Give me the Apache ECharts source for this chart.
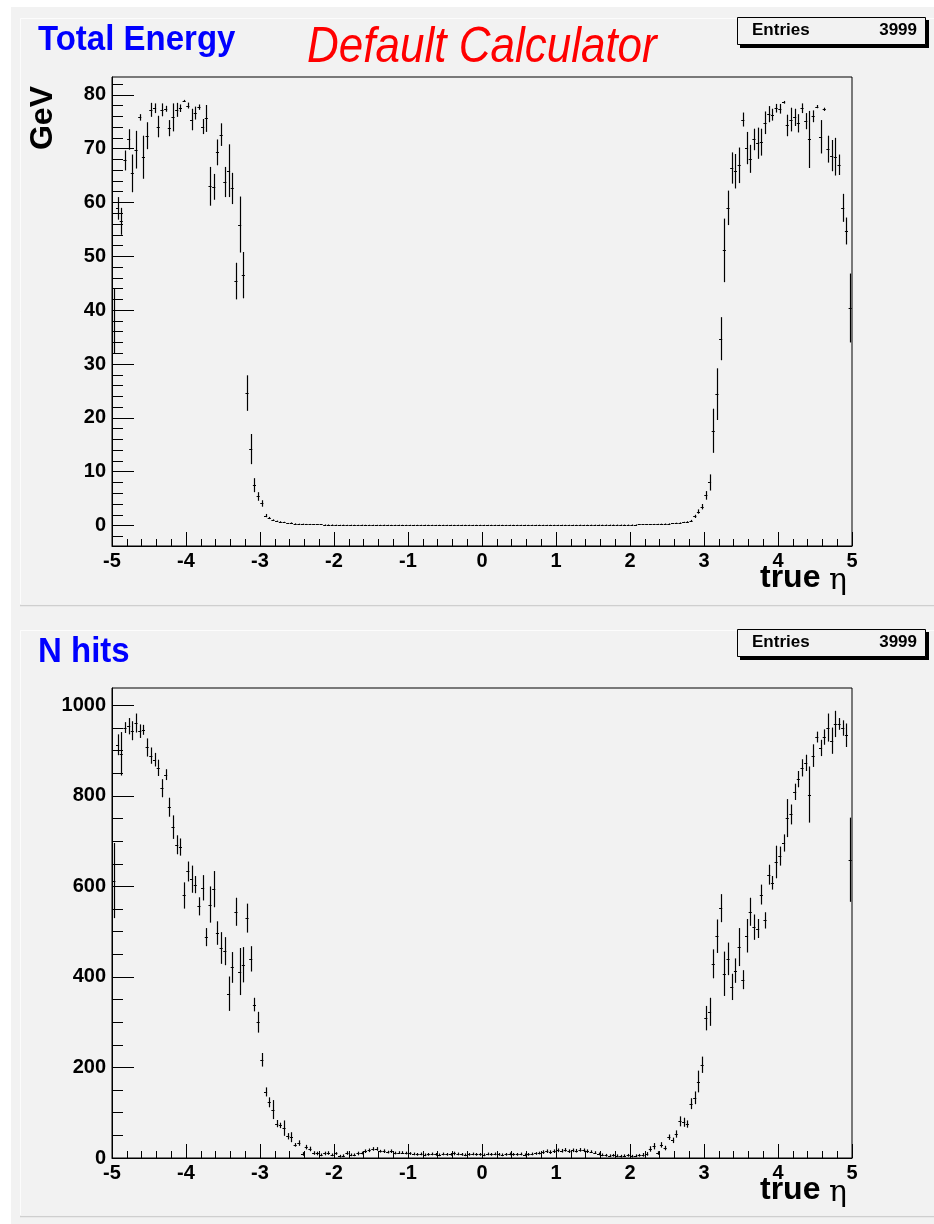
<!DOCTYPE html>
<html><head><meta charset="utf-8">
<script src="https://cdn.jsdelivr.net/npm/echarts@6/dist/echarts.min.js"></script>
<style>html,body{margin:0;padding:0;background:#fff}#c{width:934px;height:1224px}</style>
</head><body><div id="c"></div>
<script>
// Histogram definition
const N_BINS = 200, ETA_MIN = -5, ETA_MAX = 5;
const ENTRIES = 3999;

// Total energy per eta bin (GeV)
const energy = [
 38, 58.9, 56.5, 67.8, 71.7, 65.4, 69.8, 75.8, 68.4, 72.4,
 77.2, 77.5, 74.1, 77.2, 77.4, 73.8, 75.8, 77.2, 77.5, 78.9,
 78.0, 75.4, 76.6, 77.7, 74.1, 75.6, 63.0, 62.9, 69.3, 72.6,
 63.8, 65.9, 62.6, 45.4, 55.9, 46.5, 24.6, 14.2, 7.5, 5.4,
 4.1, 1.85, 1.4, 1.0, 0.8, 0.7, 0.6, 0.4, 0.5, 0.35,
 0.3, 0.3, 0.25, 0.25, 0.2, 0.2, 0.2, 0.15, 0.15, 0.15,
 0.12, 0.1, 0.12, 0.1, 0.11, 0.1, 0.09, 0.12, 0.1, 0.1,
 0.11, 0.1, 0.1, 0.12, 0.1, 0.09, 0.1, 0.11, 0.1, 0.1,
 0.1, 0.09, 0.1, 0.1, 0.11, 0.1, 0.1, 0.09, 0.1, 0.1,
 0.1, 0.1, 0.09, 0.1, 0.1, 0.1, 0.1, 0.09, 0.1, 0.1,
 0.1, 0.09, 0.1, 0.1, 0.1, 0.1, 0.09, 0.1, 0.1, 0.1,
 0.1, 0.1, 0.09, 0.1, 0.1, 0.11, 0.1, 0.1, 0.1, 0.1,
 0.1, 0.11, 0.1, 0.1, 0.11, 0.1, 0.12, 0.1, 0.11, 0.12,
 0.12, 0.13, 0.12, 0.14, 0.13, 0.14, 0.15, 0.14, 0.15, 0.16,
 0.17, 0.18, 0.2, 0.2, 0.22, 0.24, 0.25, 0.27, 0.3, 0.33,
 0.36, 0.4, 0.45, 0.5, 0.6, 0.7, 0.9, 1.7, 2.6, 3.5,
 5.6, 8.0, 17.6, 24.4, 34.7, 51.1, 59.0, 66.4, 65.8, 66.9,
 75.4, 70.1, 68.1, 71.7, 71.0, 71.2, 74.8, 76.4, 76.3, 77.5,
 77.4, 78.6, 74.3, 75.4, 75.8, 74.7, 77.5, 75.1, 71.7, 76.0,
 77.8, 72.2, 77.3, 69.9, 68.7, 68.5, 67.0, 59.0, 54.7, 40.4
];
const energyErr = [
 6.0, 2.1, 2.5, 1.85, 1.9, 3.5, 3.5, 0.6, 4.0, 2.5,
 1.3, 0.9, 2.0, 1.2, 0.55, 1.5, 2.6, 1.3, 0.7, 0.15,
 0.55, 2.0, 1.2, 0.5, 1.4, 2.5, 3.6, 2.4, 2.4, 2.1,
 2.8, 4.9, 2.9, 3.4, 5.2, 4.3, 3.3, 2.8, 1.3, 0.8,
 0.6, 0.3, 0.2, 0.15, 0.12, 0.1, 0.1, 0.08, 0.08, 0.06,
 0.05, 0.05, 0.05, 0.05, 0.05, 0.05, 0.05, 0.05, 0.05, 0.05,
 0.04, 0.04, 0.04, 0.04, 0.04, 0.04, 0.04, 0.04, 0.04, 0.04,
 0.04, 0.04, 0.04, 0.04, 0.04, 0.04, 0.04, 0.04, 0.04, 0.04,
 0.04, 0.04, 0.04, 0.04, 0.04, 0.04, 0.04, 0.04, 0.04, 0.04,
 0.04, 0.04, 0.04, 0.04, 0.04, 0.04, 0.04, 0.04, 0.04, 0.04,
 0.04, 0.04, 0.04, 0.04, 0.04, 0.04, 0.04, 0.04, 0.04, 0.04,
 0.04, 0.04, 0.04, 0.04, 0.04, 0.04, 0.04, 0.04, 0.04, 0.04,
 0.04, 0.04, 0.04, 0.04, 0.04, 0.04, 0.04, 0.04, 0.04, 0.04,
 0.04, 0.04, 0.04, 0.04, 0.04, 0.04, 0.04, 0.04, 0.04, 0.04,
 0.05, 0.05, 0.05, 0.05, 0.05, 0.05, 0.05, 0.05, 0.05, 0.05,
 0.06, 0.07, 0.08, 0.08, 0.1, 0.1, 0.15, 0.3, 0.4, 0.5,
 0.8, 1.5, 4.1, 4.8, 4.0, 5.9, 3.2, 2.9, 3.2, 3.3,
 1.3, 3.0, 2.6, 2.0, 2.9, 2.5, 2.1, 1.5, 1.1, 0.8,
 0.9, 0.25, 2.0, 2.2, 1.6, 1.7, 0.9, 1.5, 5.3, 1.1,
 0.3, 3.1, 0.3, 2.5, 2.9, 3.5, 1.9, 2.6, 2.5, 6.4
];

// Number of hits per eta bin
const hits = [
 613, 913, 893, 951, 954, 944, 961, 943, 946, 907,
 889, 880, 862, 817, 847, 775, 731, 692, 687, 580,
 633, 616, 604, 556, 597, 488, 560, 594, 497, 464,
 457, 363, 421, 544, 412, 427, 530, 440, 339, 300,
 217, 146, 123, 107, 76, 72, 66, 48, 46, 29,
 33, 9, 24, 20, 11, 10, 7, 10, 11, 7,
 10, 4, 5, 11, 7, 7, 10, 11, 15, 17,
 20, 20, 15, 15, 13, 15, 11, 12, 12, 11,
 10, 9, 8, 9, 7, 8, 9, 8, 7, 9,
 8, 8, 10, 9, 8, 7, 8, 9, 8, 8,
 7, 9, 8, 9, 8, 7, 8, 9, 8, 8,
 9, 7, 8, 9, 10, 11, 13, 15, 13, 15,
 17, 16, 18, 15, 17, 16, 18, 17, 15, 14,
 12, 9, 7, 6, 5, 6, 5, 4, 5, 6,
 4, 5, 6, 7, 9, 20, 26, 11, 29, 22,
 46, 39, 53, 81, 79, 75, 120, 133, 169, 206,
 309, 323, 429, 490, 552, 407, 440, 378, 414, 466,
 394, 491, 544, 510, 507, 582, 525, 626, 608, 654,
 667, 696, 751, 759, 809, 837, 862, 873, 803, 889,
 930, 906, 930, 951, 922, 959, 959, 950, 934, 659
];
const hitsErr = [
 83, 23, 48, 12, 18, 21, 21, 15, 11, 20,
 18, 15, 18, 20, 12, 21, 26, 21, 19, 29,
 22, 30, 19, 20, 28, 20, 40, 40, 26, 35,
 31, 38, 34, 31, 52, 39, 32, 28, 15, 23,
 15, 10, 11, 21, 8, 6, 17, 7, 11, 4,
 6, 4, 5, 5, 4, 4, 3, 4, 4, 3,
 3, 3, 3, 4, 3, 3, 4, 3, 4, 4,
 4, 4, 3, 4, 3, 4, 3, 3, 3, 3,
 3, 3, 3, 3, 3, 3, 3, 3, 3, 3,
 3, 3, 4, 3, 3, 3, 3, 3, 3, 3,
 3, 3, 3, 3, 3, 3, 3, 3, 3, 3,
 3, 3, 3, 3, 3, 3, 4, 4, 4, 4,
 4, 4, 4, 4, 4, 4, 4, 4, 4, 3,
 3, 3, 3, 3, 3, 3, 3, 3, 3, 3,
 3, 3, 3, 4, 4, 6, 7, 4, 6, 5,
 6, 6, 8, 11, 10, 8, 12, 14, 24, 18,
 27, 31, 32, 37, 31, 49, 36, 29, 27, 42,
 21, 37, 31, 28, 21, 22, 18, 22, 15, 36,
 21, 19, 42, 22, 18, 18, 19, 18, 62, 25,
 12, 18, 17, 31, 29, 29, 13, 17, 26, 93
];

// Axis ticks
const energyTicks = [0, 10, 20, 30, 40, 50, 60, 70, 80];
const energyMinor = [-2, 2, 4, 6, 8, 12, 14, 16, 18, 22, 24, 26, 28, 32, 34, 36, 38, 42, 44, 46, 48, 52, 54, 56, 58, 62, 64, 66, 68, 72, 74, 76, 78, 82];
const hitsTicks = [0, 200, 400, 600, 800, 1000];
const hitsMinor = [50, 100, 150, 250, 300, 350, 450, 500, 550, 650, 700, 750, 850, 900, 950];

const FONT = '"Liberation Sans", Arial, Helvetica, sans-serif';
const binW = (ETA_MAX - ETA_MIN) / N_BINS;
const centers = energy.map((_, i) => ETA_MIN + (i + 0.5) * binW);

function errBars(vals, errs, xi, yi) {
  return {
    type: 'custom', xAxisIndex: xi, yAxisIndex: yi, clip: true, silent: true, animation: false,
    data: vals.map((v, i) => [centers[i], v, errs[i]]),
    encode: { x: 0, y: 1 },
    renderItem: (params, api) => {
      const x = api.value(0), y = api.value(1), e = api.value(2);
      const top = api.coord([x, y + e]), bot = api.coord([x, y - e]);
      const l = api.coord([x - binW * 0.42, y]), r = api.coord([x + binW * 0.42, y]);
      const px = Math.round(top[0]) + 0.5, py = Math.round(l[1]) + 0.5;
      return { type: 'group', children: [
        { type: 'line', shape: { x1: px, y1: top[1], x2: px, y2: bot[1] }, style: { stroke: '#000', lineWidth: 1.2 } },
        { type: 'line', shape: { x1: l[0], y1: py, x2: r[0], y2: py }, style: { stroke: '#000', lineWidth: 1 } }
      ]};
    }
  };
}

function xAx(gi) {
  return { type: 'value', gridIndex: gi, min: ETA_MIN, max: ETA_MAX, interval: 1,
    axisLine: { show: true, onZero: false, lineStyle: { color: '#000', width: 1 } },
    axisTick: { show: true, inside: true, length: 14, lineStyle: { color: '#000' } },
    minorTick: { show: true, splitNumber: 5, length: 7, lineStyle: { color: '#000' } },
    axisLabel: { show: true, margin: 5, fontFamily: FONT, fontWeight: 'bold', fontSize: 20, color: '#000', formatter: v => String(v) },
    splitLine: { show: false }, minorSplitLine: { show: false } };
}
function yMajor(gi, min, max, ticks) {
  return { type: 'value', gridIndex: gi, position: 'left', offset: 0, min: min, max: max,
    axisLine: { show: true, onZero: false, lineStyle: { color: '#000', width: 1 } },
    axisTick: { show: true, inside: true, length: 22, customValues: ticks, lineStyle: { color: '#000' } },
    axisLabel: { show: true, customValues: ticks, margin: 6, fontFamily: FONT, fontWeight: 'bold', fontSize: 20, color: '#000', formatter: v => String(v) },
    splitLine: { show: false } };
}
function yMinor(gi, min, max, ticks) {
  return { type: 'value', gridIndex: gi, position: 'left', offset: 0, min: min, max: max,
    axisLine: { show: false, onZero: false },
    axisTick: { show: true, inside: true, length: 11, customValues: ticks, lineStyle: { color: '#000' } },
    axisLabel: { show: false },
    splitLine: { show: false } };
}

const BG = '#f2f2f2';
function statsBox(y) {
  return [
    { type: 'rect', shape: { x: 740, y: y + 3, width: 189, height: 28 }, style: { fill: '#000' }, z: 50 },
    { type: 'rect', shape: { x: 737.5, y: y + 0.5, width: 188, height: 27 }, style: { fill: BG, stroke: '#000', lineWidth: 1 }, z: 51 },
    { type: 'text', x: 752, y: y + 13, style: { text: 'Entries', font: 'bold 17px ' + FONT, fill: '#000', verticalAlign: 'middle', align: 'left' }, z: 52 },
    { type: 'text', x: 917, y: y + 13, style: { text: String(ENTRIES), font: 'bold 17px ' + FONT, fill: '#000', verticalAlign: 'middle', align: 'right' }, z: 52 }
  ];
}
function xTitle(y) {
  return [
    { type: 'text', x: 760, y: y, style: { text: 'true', font: 'bold 32px ' + FONT, fill: '#000', verticalAlign: 'middle', align: 'left' }, z: 52 },
    { type: 'text', x: 829, y: y + 3, style: { text: 'η', font: '30px "DejaVu Serif", serif', fill: '#000', verticalAlign: 'middle', align: 'left' }, z: 52 }
  ];
}

const graphics = [
  { type: 'rect', shape: { x: 11, y: 7, width: 923, height: 1217 }, style: { fill: BG }, z: -100 },
  // pad 1
  { type: 'rect', shape: { x: 20.5, y: 18.5, width: 930, height: 586 }, style: { fill: BG, stroke: '#fcfcfc', lineWidth: 1 }, z: -99 },
  { type: 'line', shape: { x1: 20, y1: 605.5, x2: 934, y2: 605.5 }, style: { stroke: '#cfcfcf', lineWidth: 1.5 }, z: -98 },
  // pad 2
  { type: 'rect', shape: { x: 20.5, y: 630.5, width: 930, height: 585 }, style: { fill: BG, stroke: '#fcfcfc', lineWidth: 1 }, z: -99 },
  { type: 'line', shape: { x1: 20, y1: 1216.5, x2: 934, y2: 1216.5 }, style: { stroke: '#cfcfcf', lineWidth: 1.5 }, z: -98 },
  // titles
  { type: 'text', x: 38, y: 40, scaleY: 1.06, style: { text: 'Total Energy', font: 'bold 33px ' + FONT, fill: '#0000ff', verticalAlign: 'middle' }, z: 52 },
  { type: 'text', x: 307, y: 48, scaleY: 1.12, style: { text: 'Default Calculator', font: 'italic 44px ' + FONT, fill: '#ff0000', verticalAlign: 'middle' }, z: 52 },
  { type: 'text', x: 43.5, y: 118, rotation: Math.PI / 2, style: { text: 'GeV', font: 'bold 32px ' + FONT, fill: '#000', verticalAlign: 'middle', align: 'center' }, z: 52 },
  { type: 'text', x: 38, y: 652, scaleY: 1.06, style: { text: 'N hits', font: 'bold 33px ' + FONT, fill: '#0000ff', verticalAlign: 'middle' }, z: 52 }
].concat(statsBox(17), statsBox(629), xTitle(578), xTitle(1190));

const chart = echarts.init(document.getElementById('c'), null, { renderer: 'canvas' });
chart.setOption({
  backgroundColor: '#ffffff',
  animation: false,
  grid: [
    { left: 112, top: 77, width: 740, height: 469, show: true, borderColor: '#000', borderWidth: 1, backgroundColor: 'transparent' },
    { left: 112, top: 688, width: 740, height: 470, show: true, borderColor: '#000', borderWidth: 1, backgroundColor: 'transparent' }
  ],
  xAxis: [xAx(0), xAx(1)],
  yAxis: [
    yMajor(0, -3.8, 83.3, energyTicks), yMinor(0, -3.8, 83.3, energyMinor),
    yMajor(1, 0, 1038.4, hitsTicks), yMinor(1, 0, 1038.4, hitsMinor)
  ],
  series: [errBars(energy, energyErr, 0, 0), errBars(hits, hitsErr, 1, 2)],
  graphic: graphics
});
</script>
</body></html>
